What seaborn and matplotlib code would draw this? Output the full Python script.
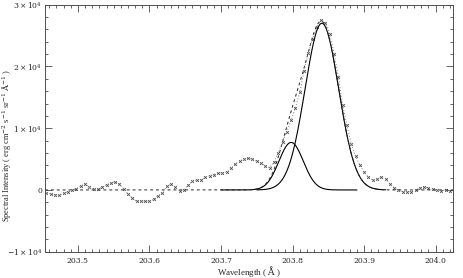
import numpy as np
import seaborn as sns
import matplotlib
matplotlib.use("Agg")
from matplotlib import pyplot as plt
from matplotlib.ticker import MultipleLocator, FixedLocator

# observed spectrum (wavelength in Angstrom, intensity)
wave = [203.456, 203.462, 203.468, 203.474, 203.480, 203.486, 203.492, 203.498, 203.504, 203.510,
        203.516, 203.522, 203.528, 203.534, 203.540, 203.546, 203.552, 203.558, 203.564, 203.570,
        203.576, 203.582, 203.588, 203.594, 203.600, 203.606, 203.612, 203.618, 203.624, 203.630,
        203.636, 203.642, 203.648, 203.654, 203.660, 203.666, 203.672, 203.678, 203.684, 203.690,
        203.696, 203.702, 203.708, 203.714, 203.720, 203.726, 203.732, 203.738, 203.744, 203.750,
        203.756, 203.762, 203.768, 203.774, 203.780, 203.786, 203.792, 203.798, 203.804, 203.810,
        203.816, 203.822, 203.828, 203.834, 203.840, 203.846, 203.852, 203.858, 203.864, 203.870,
        203.876, 203.882, 203.888, 203.894, 203.900, 203.906, 203.912, 203.918, 203.924, 203.930,
        203.936, 203.942, 203.948, 203.954, 203.960, 203.966, 203.972, 203.978, 203.984, 203.990,
        203.996, 204.002, 204.008, 204.014, 204.020]
intensity = [-550, -620, -810, -810, -540, -290, 60, 210, 650, 1000,
             420, 100, 80, 490, 850, 1140, 1290, 940, 170, -620,
             -1340, -1830, -1840, -1840, -1850, -1500, -900, -500, 600, 920,
             450, -100, 20, 810, 1380, 1620, 1600, 2080, 2300, 2500,
             2800, 2700, 2900, 3500, 4200, 4700, 4950, 5130, 4950, 4650,
             4300, 3950, 3600, 4500, 6000, 7800, 9400, 11340, 13300, 15800,
             19200, 22200, 24500, 26400, 27550, 27100, 25250, 22100, 18350, 13770,
             10500, 7450, 5500, 4000, 2900, 2050, 1640, 1770, 2050, 1800,
             980, 370, -50, -290, -320, -300, 0, 340, 430, 300,
             100, -20, -90, -20, -100]

# gaussian fit components: amplitude, centre, sigma, plotted window
small_amp, small_cen, small_sig = 7700, 203.798, 0.017
big_amp, big_cen, big_sig = 27000, 203.841, 0.0235
small_win = (203.70, 203.89)
big_win = (203.75, 203.93)
background = 0.0

xticks = [203.5, 203.6, 203.7, 203.8, 203.9, 204.0]
xticklabels = ["203.5", "203.6", "203.7", "203.8", "203.9", "204.0"]
yticks = [-10000, 0, 10000, 20000, 30000]
yticklabels = [r"$-1\times10^{4}$", "0", r"$1\times10^{4}$", r"$2\times10^{4}$", r"$3\times10^{4}$"]


def gauss(x, a, c, s):
    return a * np.exp(-0.5 * ((x - c) / s) ** 2)


sns.set_style("ticks")
plt.rcParams["font.family"] = ["DejaVu Serif"]
plt.rcParams["mathtext.fontset"] = "dejavuserif"

fig = plt.figure(figsize=(4.63, 2.78), dpi=100)
ax = fig.add_axes([0.0972, 0.0946, 0.978 - 0.0972, 0.983 - 0.0946])

xs = np.linspace(wave[0] - 0.01, wave[-1] + 0.01, 600)
total = background + gauss(xs, small_amp, small_cen, small_sig) + gauss(xs, big_amp, big_cen, big_sig)

xs_s = np.linspace(*small_win, 300)
xs_b = np.linspace(*big_win, 300)
sns.lineplot(x=xs_s, y=gauss(xs_s, small_amp, small_cen, small_sig), ax=ax,
             color="black", lw=0.8, estimator=None)
sns.lineplot(x=xs_b, y=gauss(xs_b, big_amp, big_cen, big_sig), ax=ax,
             color="black", lw=0.8, estimator=None)
sns.lineplot(x=xs, y=total, ax=ax, color="0.15", lw=0.7, linestyle=(0, (3, 3)),
             estimator=None)
sns.lineplot(x=wave, y=intensity, ax=ax, color="0.5", lw=0.7, linestyle=(0, (1, 2)),
             estimator=None)
sns.scatterplot(x=wave, y=intensity, ax=ax, color="0.3", marker="x", s=4,
                linewidth=0.6)

ax.set_xlim(203.454, 204.024)
ax.set_ylim(-10000, 30000)
ax.xaxis.set_major_locator(FixedLocator(xticks))
ax.set_xticklabels(xticklabels)
ax.xaxis.set_minor_locator(MultipleLocator(0.01))
ax.yaxis.set_major_locator(FixedLocator(yticks))
ax.set_yticklabels(yticklabels)
ax.yaxis.set_minor_locator(MultipleLocator(2000))

ax.tick_params(which="both", direction="in", top=True, right=True, labelsize=5.5,
               color="0.3", width=0.6)
ax.tick_params(which="major", length=5)
ax.tick_params(which="minor", length=2.5)
ax.tick_params(axis="y", pad=2)
for sp in ax.spines.values():
    sp.set_linewidth(0.7)
    sp.set_color("0.3")

ax.set_xlabel(r"Wavelength ( $\mathrm{\AA}$ )", fontsize=6.5, family="Liberation Serif")
ax.set_ylabel(r"Spectral Intensity ( erg cm$^{-2}$ s$^{-1}$ sr$^{-1}$ $\mathrm{\AA}^{-1}$ )",
              fontsize=6, family="Liberation Serif")
ax.xaxis.set_label_coords(0.5, -0.05)
ax.yaxis.set_label_coords(-0.078, 0.43)

fig.savefig("out.png", dpi=100)
